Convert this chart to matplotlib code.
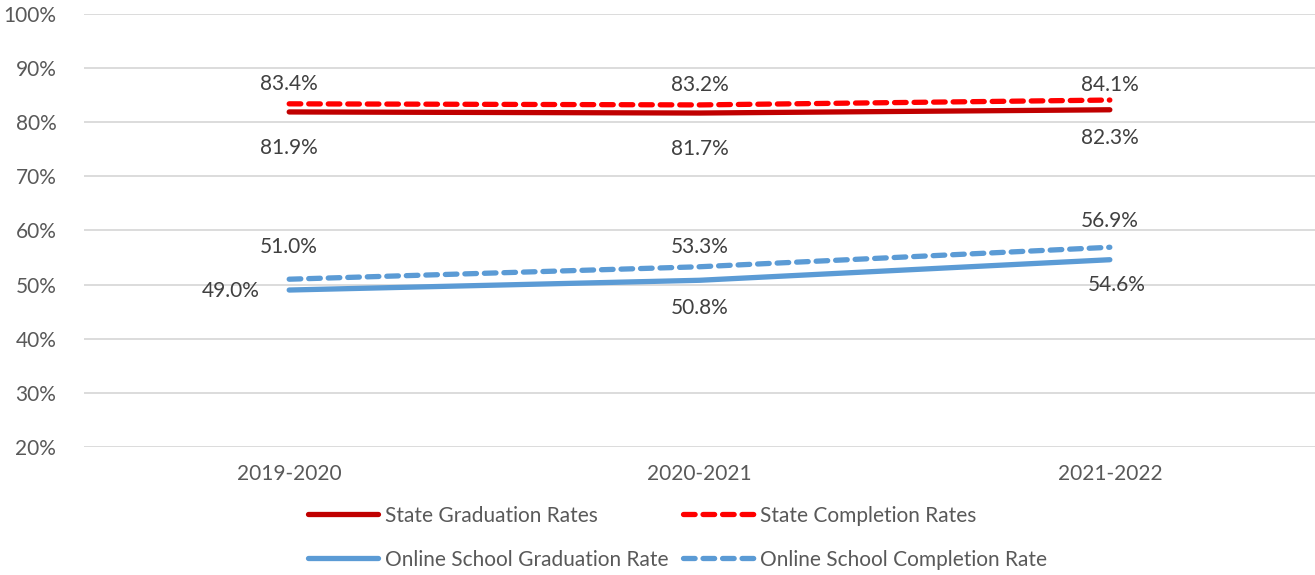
import matplotlib
matplotlib.use('Agg')
import matplotlib.pyplot as plt
from matplotlib.ticker import PercentFormatter

plt.rcParams['font.family'] = ['Lato', 'DejaVu Sans']

years = ['2019-2020', '2020-2021', '2021-2022']
state_grad = [81.9, 81.7, 82.3]
state_comp = [83.4, 83.2, 84.1]
online_grad = [49.0, 50.8, 54.6]
online_comp = [51.0, 53.3, 56.9]

# label offsets in points (dx, dy), one per point
state_grad_off = [(0, -26), (0, -26), (0, -20)]
state_comp_off = [(0, 14), (0, 14), (0, 11)]
online_grad_off = [(-42, -1), (0, -20), (5, -18)]
online_comp_off = [(0, 23), (0, 14), (0, 19)]

fig = plt.figure(figsize=(13.15, 5.75), dpi=100)
ax = fig.add_axes([0.0639, 0.2226, 0.9361, 0.7531])

x = range(len(years))
h1, = ax.plot(x, state_grad, color='#C00000', lw=3.8, solid_capstyle='round', label='State Graduation Rates')
h2, = ax.plot(x, state_comp, color='#FF0000', lw=3.8, ls=(0, (2.2, 1.5)), dash_capstyle='round', label='State Completion Rates')
h3, = ax.plot(x, online_grad, color='#5B9BD5', lw=3.8, solid_capstyle='round', label='Online School Graduation Rate')
h4, = ax.plot(x, online_comp, color='#5B9BD5', lw=3.8, ls=(0, (2.2, 1.5)), dash_capstyle='round', label='Online School Completion Rate')

for vals, offs in [(state_grad, state_grad_off), (state_comp, state_comp_off),
                   (online_grad, online_grad_off), (online_comp, online_comp_off)]:
    for i, (v, o) in enumerate(zip(vals, offs)):
        ax.annotate(f'{v:.1f}%', (i, v), xytext=o, textcoords='offset points',
                    ha='center', va='center', fontsize=15, color='#404040')

ax.set_xlim(-0.5, 2.5)
ax.set_ylim(20, 100)
ax.set_yticks(range(20, 101, 10))
ax.yaxis.set_major_formatter(PercentFormatter(decimals=0))
ax.set_xticks(list(x))
ax.set_xticklabels(years)
ax.tick_params(length=0, labelsize=15, colors='#595959', pad=12)
ax.tick_params(axis='y', pad=20)
ax.grid(axis='y', color='#D9D9D9', lw=1.3)
ax.set_axisbelow(True)
for s in ax.spines.values():
    s.set_visible(False)

# column-major fill: order so rows read state / online
fig.legend([h1, h3, h2, h4], [h.get_label() for h in (h1, h3, h2, h4)],
           loc='center', bbox_to_anchor=(0.515, 0.065), ncol=2, frameon=False,
           fontsize=15, handlelength=3.4, handletextpad=0.3, columnspacing=0.7,
           labelspacing=1.15, labelcolor='#595959')

fig.savefig('out.png', dpi=100)
